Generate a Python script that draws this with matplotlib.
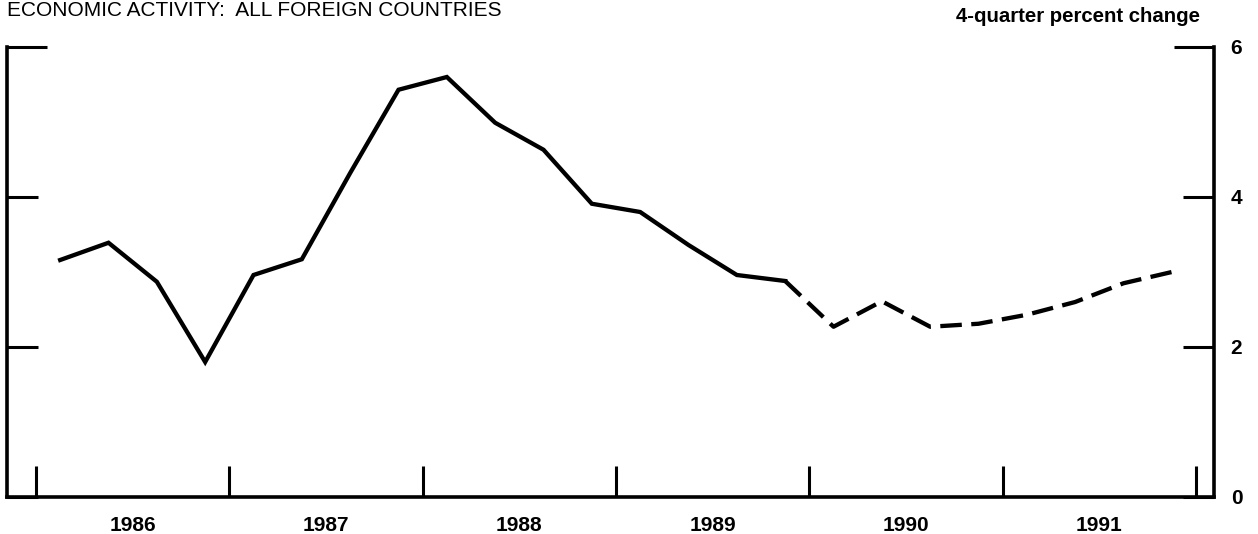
import numpy as np
import matplotlib
matplotlib.use("Agg")
import matplotlib.pyplot as plt

plt.rcParams['font.family'] = ['Liberation Sans', 'DejaVu Sans']

# 4-quarter percent change, quarterly 1986Q1 - 1991Q4
years = [1986, 1987, 1988, 1989, 1990, 1991]
actual = [3.16, 3.39, 2.87, 1.80, 2.96, 3.17, 4.32, 5.43,
          5.60, 4.99, 4.63, 3.91, 3.80, 3.36, 2.96, 2.88]
# projection starts from the last actual quarter (1989Q4)
projected = [2.88, 2.27, 2.61, 2.27, 2.31, 2.43, 2.60, 2.85, 3.00]
ytick_vals = [0, 2, 4, 6]

n_q = len(actual) + len(projected) - 1
qx = years[0] + (np.arange(n_q) + 0.5) / 4.0
x_act = qx[:len(actual)]
x_proj = qx[len(actual) - 1:]

W, H = 1258, 534
fig = plt.figure(figsize=(W / 100, H / 100), dpi=100)
ax = fig.add_axes([7 / W, 1 - 497 / H, (1214 - 7) / W, (497 - 47) / H])

ax.plot(x_act, actual, color='black', lw=3.1, solid_joinstyle='miter')
ax.plot(x_proj, projected, color='black', lw=3.1, dashes=(5, 2.2))

ax.set_xlim(1985.85, 1992.093)
ax.set_ylim(0, 6)

for s in ['left', 'right', 'bottom']:
    ax.spines[s].set_linewidth(2.6)
ax.spines['top'].set_visible(False)

# year boundaries as ticks, year names centred in between
ax.set_xticks(list(years) + [years[-1] + 1])
ax.set_xticklabels([])
ax.set_xticks([y + 0.5 for y in years], minor=True)
ax.set_xticklabels([str(y) for y in years], minor=True,
                   fontsize=15, fontweight='bold')
ax.tick_params(axis='x', which='major', direction='in', length=22, width=2.2)
ax.tick_params(axis='x', which='minor', length=0, pad=14)

ax.set_yticks(ytick_vals)
ax.set_yticklabels([str(v) for v in ytick_vals], fontsize=15, fontweight='bold')
ax.tick_params(axis='y', which='major', direction='in', length=22, width=2.2,
               left=True, right=True, labelleft=False, labelright=True, pad=12)
# the top tick is drawn longer on both sides
top_tick = ax.yaxis.get_major_ticks()[-1]
top_tick.tick1line.set_markersize(29)
top_tick.tick2line.set_markersize(29)

fig.text(7 / W, 1 - 16 / H, 'ECONOMIC ACTIVITY:  ALL FOREIGN COUNTRIES',
         fontsize=15, va='baseline', ha='left')
fig.text(1200 / W, 1 - 22 / H, '4-quarter percent change',
         fontsize=14.7, fontweight='bold', va='baseline', ha='right')

fig.savefig('out.png', dpi=100)
